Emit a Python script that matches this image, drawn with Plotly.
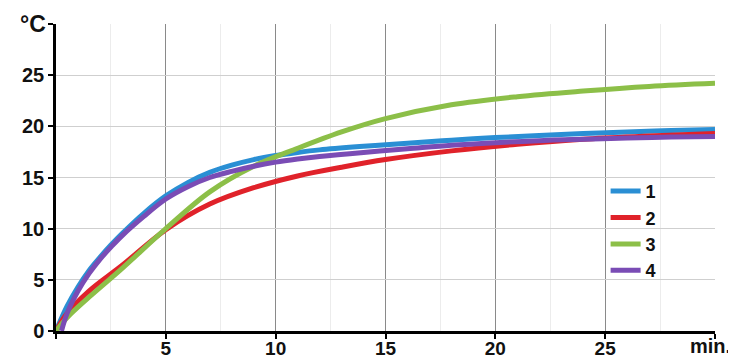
import plotly.graph_objects as go

# time (min) for each curve
t_1 = [0, 0.5, 1, 1.5, 2, 2.5, 3, 4, 5, 6, 7, 8, 9, 10, 11, 12, 14, 16, 18, 20, 22, 24, 26, 28, 30]
t_2 = [0, 0.5, 1.5, 3, 5, 7, 9, 11, 13, 15, 18, 21, 24, 27, 30]
t_3 = [0, 0.5, 1.5, 3, 5, 7, 9, 11, 13, 15, 18, 21, 24, 27, 30]
t_4 = [0.25, 0.5, 1, 1.5, 2, 2.5, 3, 4, 5, 6, 7, 8, 9, 10, 11, 12, 14, 16, 18, 20, 22, 24, 26, 28, 30]

temp_1 = [0, 2.4, 4.3, 5.9, 7.2, 8.4, 9.5, 11.5, 13.2, 14.5, 15.5, 16.2, 16.75, 17.15, 17.45, 17.7, 18.05, 18.35, 18.65, 18.9, 19.1, 19.3, 19.45, 19.6, 19.7]
temp_2 = [0, 1.7, 3.9, 6.4, 9.9, 12.4, 14.0, 15.15, 16.0, 16.75, 17.6, 18.25, 18.75, 19.05, 19.3]
temp_3 = [0, 1.3, 3.3, 6.1, 10.0, 13.6, 16.1, 17.85, 19.45, 20.75, 22.1, 22.9, 23.45, 23.9, 24.2]
temp_4 = [0, 1.7, 3.9, 5.6, 7.0, 8.2, 9.3, 11.2, 12.9, 14.1, 15.0, 15.6, 16.1, 16.5, 16.8, 17.05, 17.45, 17.8, 18.15, 18.4, 18.6, 18.75, 18.85, 18.95, 19.0]

series_names = ["1", "2", "3", "4"]
colors = ["#2a8fd4", "#e0222a", "#8cbf48", "#7a4cb5"]

x_tickvals = [0, 5, 10, 15, 20, 25, 30]
x_ticktext = ["", "5", "10", "15", "20", "25", ""]
y_tickvals = [0, 5, 10, 15, 20, 25, 30]
y_ticktext = ["0", "5", "10", "15", "20", "25", ""]
x_unit = "min."
y_unit = "°C"

FONT = "Liberation Sans, Arial, sans-serif"

fig = go.Figure()
data = [(t_1, temp_1), (t_2, temp_2), (t_3, temp_3), (t_4, temp_4)]
for i in range(4):
    x, y = data[i]
    fig.add_trace(go.Scatter(
        x=x, y=y, mode="lines", name=series_names[i],
        line=dict(color=colors[i], width=5, shape="spline", smoothing=1.0),
    ))

# page body has an 8px default margin, so the figure is sized to fit inside
fig.update_layout(
    width=728, height=351,
    margin=dict(l=48, r=21, t=16, b=28),
    paper_bgcolor="white", plot_bgcolor="white",
    font=dict(family=FONT, size=18, color="#111"),
    legend=dict(
        x=0.834, y=0.515, xanchor="left", yanchor="top",
        font=dict(family=FONT, size=18, color="#111", weight="bold"),
        bgcolor="rgba(0,0,0,0)", itemwidth=30, tracegroupgap=0,
        traceorder="normal",
    ),
    showlegend=True,
)

fig.update_xaxes(
    range=[0, 30], tickvals=x_tickvals, ticktext=x_ticktext,
    showline=True, linecolor="black", linewidth=2.5,
    ticks="outside", ticklen=5, tickwidth=2, tickcolor="black",
    showgrid=True, gridcolor="#8a8a8a", gridwidth=1,
    minor=dict(dtick=2.5, showgrid=True, gridcolor="#ececec", gridwidth=1, ticks=""),
    tickfont=dict(family=FONT, size=19, color="#111", weight="bold"),
    ticklabelstandoff=-7,
    zeroline=False, fixedrange=True, automargin=False,
)
fig.update_yaxes(
    range=[0, 30], tickvals=y_tickvals, ticktext=y_ticktext,
    showline=True, linecolor="black", linewidth=2.5,
    ticks="outside", ticklen=5, tickwidth=2, tickcolor="black",
    showgrid=True, gridcolor="#cfcfcf", gridwidth=1,
    tickfont=dict(family=FONT, size=20, color="#111", weight="bold"),
    zeroline=False, fixedrange=True, automargin=False,
)

fig.add_annotation(
    x=1.0, y=0, xref="paper", yref="paper", xanchor="right", yanchor="top",
    xshift=18, yshift=-2, text=x_unit, showarrow=False,
    font=dict(family=FONT, size=20, color="#111", weight="bold"),
)
fig.add_annotation(
    x=0, y=1.0, xref="paper", yref="paper", xanchor="right", yanchor="middle",
    xshift=-8, yshift=0, text=y_unit, showarrow=False,
    font=dict(family=FONT, size=23, color="#111", weight="bold"),
)

fig.write_html("out.html")
